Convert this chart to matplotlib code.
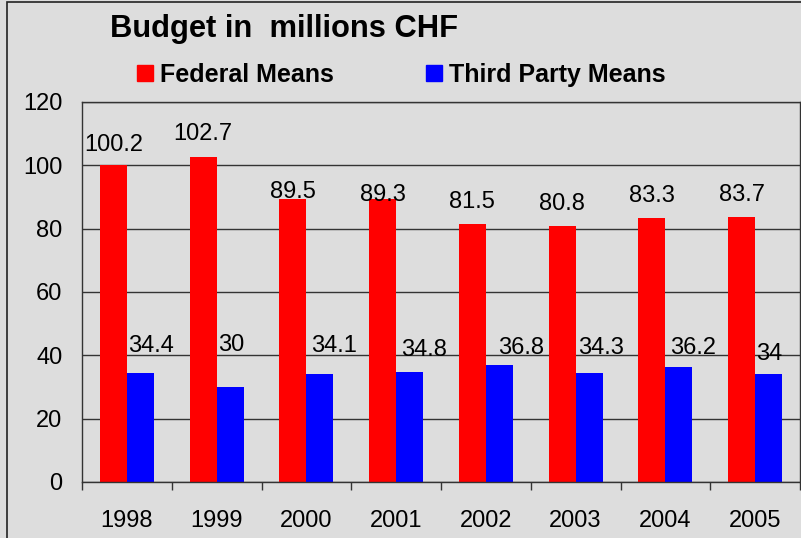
import matplotlib
matplotlib.use("Agg")
import matplotlib.pyplot as plt
from matplotlib.patches import Rectangle, Patch
import numpy as np

years = ["1998", "1999", "2000", "2001", "2002", "2003", "2004", "2005"]
federal = [100.2, 102.7, 89.5, 89.3, 81.5, 80.8, 83.3, 83.7]
third_party = [34.4, 30, 34.1, 34.8, 36.8, 34.3, 36.2, 34]
yticks = [0, 20, 40, 60, 80, 100, 120]

# label placement (pixel offsets, styling only)
red_dy = [9, 12, -4, -7, 11, 11, 11, 11]
blue_dy = [16, 31, 17, 11, 6, 14, 8, 9]
blue_dx = [1, 1, 5, 5, 12, 2, 5, 1]

plt.rcParams['font.family'] = ['Liberation Sans', 'DejaVu Sans']
BG = '#dddddd'
W, H = 801, 538
fig = plt.figure(figsize=(W / 100, H / 100), dpi=100, facecolor=BG)
ax = fig.add_axes([82 / W, 1 - 482 / H, (800 - 82) / W, (482 - 102) / H])
ax.set_facecolor(BG)

x = np.arange(len(years))
bw = 0.30
b1 = ax.bar(x - bw / 2, federal, bw, color='#ff0000', label='Federal Means', zorder=3)
b2 = ax.bar(x + bw / 2, third_party, bw, color='#0000ff', label='Third Party Means', zorder=3)

ax.set_xlim(-0.5, len(years) - 0.5)
ax.set_ylim(0, 120)
ax.set_yticks(yticks)
ax.yaxis.grid(True, color='#333333', linewidth=1.0, zorder=1)
ax.tick_params(axis='y', length=0, pad=14, labelsize=17)
ax.set_xticks(x)
ax.set_xticklabels(years)
ax.tick_params(axis='x', which='major', length=0, pad=20, labelsize=17)
ax.set_xticks(np.arange(-0.5, len(years)), minor=True)
ax.tick_params(axis='x', which='minor', length=6, width=1, color='#333333', direction='out')
for s in ax.spines.values():
    s.set_color('#333333')
    s.set_linewidth(1.0)
    s.set_zorder(4)

fs_lab = 17
for i, bar in enumerate(b1):
    ax.annotate(f"{federal[i]:g}", (bar.get_x() + bar.get_width() / 2, bar.get_height()),
                xytext=(0, red_dy[i] * 0.72), textcoords='offset points',
                ha='center', va='bottom', fontsize=fs_lab, zorder=5)
for i, bar in enumerate(b2):
    ax.annotate(f"{third_party[i]:g}", (bar.get_x(), bar.get_height()),
                xytext=(blue_dx[i] * 0.72, blue_dy[i] * 0.72), textcoords='offset points',
                ha='left', va='bottom', fontsize=fs_lab, zorder=5)

fig.text(110 / W, 1 - 37 / H, "Budget in  millions CHF", fontsize=22.2, fontweight='bold',
         ha='left', va='baseline')

handles = [Patch(color='#ff0000'), Patch(color='#0000ff')]
fig.legend(handles, ['Federal Means', 'Third Party Means'], loc='center left',
           bbox_to_anchor=(137 / W, 1 - 75 / H), ncol=2, frameon=False,
           prop={'weight': 'bold', 'size': 18}, handlelength=0.64, handleheight=0.64,
           handletextpad=0.28, columnspacing=3.7, borderpad=0, borderaxespad=0)

fig.patches.append(Rectangle((7 / W, -0.1), 1.2, 1 - 2 / H + 0.1, transform=fig.transFigure,
                             fill=False, edgecolor='#222222', linewidth=1.2, zorder=0))

fig.savefig("out.png", dpi=100, facecolor=BG)
